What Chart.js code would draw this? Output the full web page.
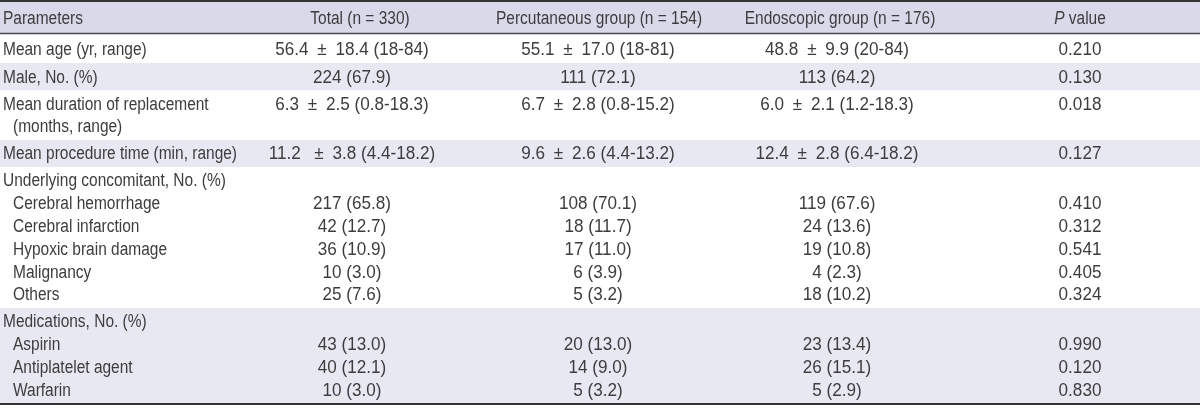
<!DOCTYPE html>
<html><head><meta charset="utf-8">
<script src="https://cdn.jsdelivr.net/npm/chart.js@4/dist/chart.umd.min.js"></script>
<style>html,body{margin:0;padding:0;background:#fff}#wrap{width:1200px;height:408px;position:relative}</style>
</head><body><div id="wrap"><canvas id="c"></canvas></div>
<script>
// ---- data ----
const headers = ["Parameters", "Total (n = 330)", "Percutaneous group (n = 154)", "Endoscopic group (n = 176)", "*P* value"];
const parameters = ["Mean age (yr, range)", "Male, No. (%)", "Mean duration of replacement", "(months, range)", "Mean procedure time (min, range)",
  "Underlying concomitant, No. (%)", "Cerebral hemorrhage", "Cerebral infarction", "Hypoxic brain damage", "Malignancy", "Others",
  "Medications, No. (%)", "Aspirin", "Antiplatelet agent", "Warfarin"];
const indented = [false, false, false, true, false, false, true, true, true, true, true, false, true, true, true];
const blockOf = [0, 1, 2, 2, 3, 4, 4, 4, 4, 4, 4, 5, 5, 5, 5];
const totalValues = ["56.4 \u00b1 18.4 (18-84)", "224 (67.9)", "6.3 \u00b1 2.5 (0.8-18.3)", "", "11.2  \u00b1 3.8 (4.4-18.2)",
  "", "217 (65.8)", "42 (12.7)", "36 (10.9)", "10 (3.0)", "25 (7.6)", "", "43 (13.0)", "40 (12.1)", "10 (3.0)"];
const percutaneousValues = ["55.1 \u00b1 17.0 (18-81)", "111 (72.1)", "6.7 \u00b1 2.8 (0.8-15.2)", "", "9.6 \u00b1 2.6 (4.4-13.2)",
  "", "108 (70.1)", "18 (11.7)", "17 (11.0)", "6 (3.9)", "5 (3.2)", "", "20 (13.0)", "14 (9.0)", "5 (3.2)"];
const endoscopicValues = ["48.8 \u00b1 9.9 (20-84)", "113 (64.2)", "6.0 \u00b1 2.1 (1.2-18.3)", "", "12.4 \u00b1 2.8 (6.4-18.2)",
  "", "119 (67.6)", "24 (13.6)", "19 (10.8)", "4 (2.3)", "18 (10.2)", "", "23 (13.4)", "26 (15.1)", "5 (2.9)"];
const pValues = ["0.210", "0.130", "0.018", "", "0.127", "", "0.410", "0.312", "0.541", "0.405", "0.324", "", "0.990", "0.120", "0.830"];

// ---- layout / style ----
const FONT = '18px "Liberation Sans", Arial, sans-serif';
const ITALIC_FONT = 'italic ' + FONT;
const SX_TEXT = 0.86;   // horizontal condensing for words
const SX_VALUE = 0.95;  // horizontal condensing for numeric cells
const PM_GAP = 4;       // extra room on each side of the plus-minus sign
const TEXT_COLOR = '#3d3d3d';
const HEADER_BG = '#d9d9ea';
const SHADE_BG = '#e8e8f2';
const X_MAX = 1200;
const COLS = [
  {x: 3, hx: 3, align: 'left'},
  {x: 352, hx: 360, align: 'center'},
  {x: 598, hx: 599, align: 'center'},
  {x: 837, hx: 840, align: 'center'},
  {x: 1080, hx: 1080, align: 'center'}
];
const INDENT = 10;
const PAD = 0.185, HEADER_EXTRA = 0.2, FIRST_EXTRA = 0.11, TOP = 0.088, BOTTOM = 0.2, TEXT_DY = 0.04;

// ---- build geometry in line units ----
const headerTop = TOP;
const headerBottom = headerTop + 1 + PAD + HEADER_EXTRA;
const headerY = headerTop + (PAD + HEADER_EXTRA) / 2 + 0.5;
const nBlocks = Math.max(...blockOf) + 1;
const blocks = [];
const lineY = [];
let cur = headerBottom;
for (let b = 0; b < nBlocks; b++) {
  const idx = blockOf.map((v, i) => v === b ? i : -1).filter(i => i >= 0);
  const extra = b === 0 ? FIRST_EXTRA : 0;
  const top = cur, h = idx.length + PAD + extra;
  idx.forEach((i, k) => { lineY[i] = top + PAD / 2 + extra + 0.5 + k + TEXT_DY; });
  blocks.push({top, bottom: top + h, shaded: b % 2 === 1});
  cur += h;
}
const tableBottom = cur;
const Y_MAX = tableBottom + BOTTOM;

function rule(yv, w, color) {
  return {data: [{x: 0, y: yv}, {x: X_MAX, y: yv}], fill: false, borderColor: color, borderWidth: w, pointRadius: 0};
}
function band(top, bottom, color) {
  return [
    {data: [{x: 0, y: top}, {x: X_MAX, y: top}], fill: '+1', backgroundColor: color, borderWidth: 0, pointRadius: 0},
    {data: [{x: 0, y: bottom}, {x: X_MAX, y: bottom}], fill: false, borderWidth: 0, pointRadius: 0}
  ];
}
const datasets = [
  rule(headerTop - 0.04, 2, '#333333'),
  rule(headerBottom, 1.5, '#4a4a4a'),
  rule(tableBottom + 0.03, 2, '#333333'),
  ...band(headerTop, headerBottom, HEADER_BG)
];
blocks.forEach(bl => { if (bl.shaded) datasets.push(...band(bl.top, bl.bottom, SHADE_BG)); });

function drawRich(ctx, text, x, y, align, sxScale) {
  // segments: *...* italic, plus-minus gets extra room
  const segs = [];
  text.split('*').forEach((t, i) => {
    const font = i % 2 === 1 ? ITALIC_FONT : FONT;
    t.split(/(\u00b1)/).forEach(p => { if (p.length) segs.push({t: p, font, pad: p === '\u00b1' ? PM_GAP : 0}); });
  });
  let w = 0;
  segs.forEach(s => { ctx.font = s.font; s.w = ctx.measureText(s.t).width * sxScale + 2 * s.pad; w += s.w; });
  let sx = align === 'center' ? x - w / 2 : (align === 'right' ? x - w : x);
  ctx.textAlign = 'left';
  segs.forEach(s => {
    ctx.save();
    ctx.font = s.font;
    ctx.translate(sx + s.pad, y);
    ctx.scale(sxScale, 1);
    ctx.fillText(s.t, 0, 0);
    ctx.restore();
    sx += s.w;
  });
}

const tableText = {
  id: 'tableText',
  afterDatasetsDraw(chart) {
    const {ctx, scales: {x, y}} = chart;
    ctx.save();
    ctx.fillStyle = TEXT_COLOR;
    ctx.textBaseline = 'middle';
    const hy = y.getPixelForValue(headerY + TEXT_DY);
    headers.forEach((h, c) => drawRich(ctx, h, x.getPixelForValue(COLS[c].hx), hy, COLS[c].align, SX_TEXT));
    const cols = [parameters, totalValues, percutaneousValues, endoscopicValues, pValues];
    parameters.forEach((p, i) => {
      const py = y.getPixelForValue(lineY[i]);
      cols.forEach((arr, c) => {
        const t = arr[i];
        if (!t) return;
        const xv = COLS[c].x + (c === 0 && indented[i] ? INDENT : 0);
        drawRich(ctx, t, x.getPixelForValue(xv), py, COLS[c].align, c === 0 ? SX_TEXT : SX_VALUE);
      });
    });
    ctx.restore();
  }
};

new Chart(document.getElementById('c'), {
  type: 'line',
  data: {datasets},
  options: {
    animation: false,
    responsive: true,
    maintainAspectRatio: false,
    layout: {padding: 0},
    elements: {line: {tension: 0}},
    plugins: {legend: {display: false}, tooltip: {enabled: false}},
    scales: {
      x: {type: 'linear', min: 0, max: X_MAX, display: false},
      y: {type: 'linear', min: 0, max: Y_MAX, reverse: true, display: false}
    }
  },
  plugins: [tableText]
});
</script></body></html>
